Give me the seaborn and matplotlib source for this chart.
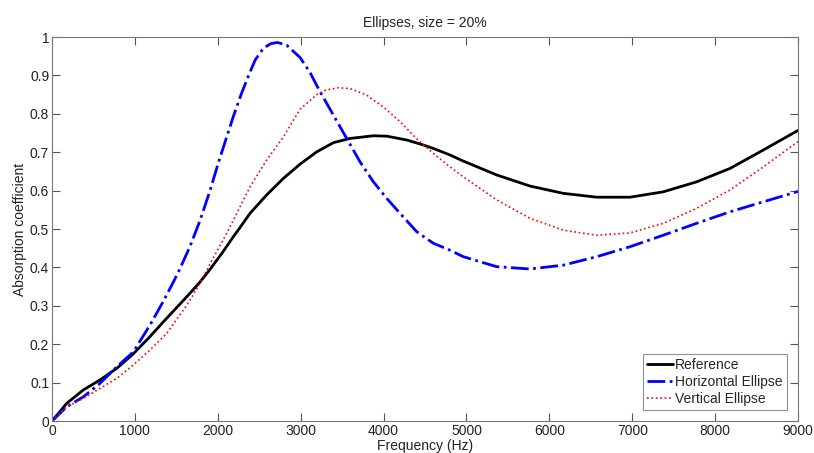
import numpy as np
import pandas as pd
import seaborn as sns
import matplotlib
matplotlib.use("Agg")
import matplotlib.pyplot as plt

# values
ref_freq = [0, 177, 378, 579, 780, 981, 1182, 1363, 1545, 1665, 1785, 1906, 2050, 2187,
            2268, 2389, 2590, 2791, 2992, 3193, 3394, 3595, 3877, 4038, 4279, 4480, 4600,
            4801, 4962, 5364, 5767, 6168, 6571, 6973, 7375, 7777, 8180, 8582, 9000]
ref_abs = [0, 0.046, 0.081, 0.107, 0.137, 0.175, 0.220, 0.263, 0.305, 0.333, 0.362, 0.395,
           0.437, 0.480, 0.504, 0.541, 0.589, 0.632, 0.669, 0.701, 0.725, 0.736, 0.743,
           0.742, 0.732, 0.719, 0.710, 0.693, 0.677, 0.641, 0.612, 0.593, 0.583, 0.583,
           0.597, 0.623, 0.658, 0.706, 0.757]

hor_freq = [0, 177, 378, 579, 780, 981, 1182, 1343, 1464, 1544, 1665, 1785, 1906, 2006,
            2100, 2187, 2280, 2368, 2450, 2550, 2640, 2720, 2831, 2911, 2992, 3112, 3233,
            3394, 3555, 3716, 3877, 4038, 4198, 4400, 4600, 4801, 4962, 5364, 5767, 6168,
            6571, 6973, 7375, 7777, 8180, 8582, 9000]
hor_abs = [0, 0.037, 0.063, 0.098, 0.141, 0.180, 0.250, 0.312, 0.362, 0.397, 0.455, 0.522,
           0.600, 0.672, 0.735, 0.793, 0.850, 0.898, 0.940, 0.971, 0.983, 0.986, 0.979,
           0.963, 0.947, 0.908, 0.858, 0.797, 0.736, 0.675, 0.623, 0.580, 0.541, 0.493,
           0.463, 0.445, 0.428, 0.402, 0.396, 0.406, 0.428, 0.454, 0.484, 0.515, 0.545,
           0.571, 0.598]

ver_freq = [0, 177, 378, 579, 780, 981, 1182, 1383, 1584, 1665, 1785, 1906, 2127, 2389,
            2590, 2791, 2992, 3193, 3300, 3454, 3595, 3796, 3997, 4198, 4400, 4600, 4801,
            4962, 5364, 5767, 6168, 6571, 6973, 7375, 7777, 8180, 8582, 9000]
ver_abs = [0, 0.037, 0.059, 0.085, 0.111, 0.146, 0.185, 0.228, 0.289, 0.315, 0.359, 0.409,
           0.497, 0.610, 0.680, 0.740, 0.812, 0.850, 0.862, 0.868, 0.866, 0.849, 0.818,
           0.780, 0.735, 0.697, 0.662, 0.636, 0.576, 0.528, 0.497, 0.484, 0.490, 0.515,
           0.554, 0.602, 0.662, 0.728]

series = [
    ("Reference", ref_freq, ref_abs, "black", "-", 2.0),
    ("Horizontal Ellipse", hor_freq, hor_abs, "#0000ff", "-.", 2.0),
    ("Vertical Ellipse", ver_freq, ver_abs, "#ff0000", ":", 1.2),
]

sns.set_style("white")
plt.rcParams["font.family"] = ["Liberation Sans", "DejaVu Sans"]
plt.rcParams["font.size"] = 10

fig = plt.figure(figsize=(8.14, 4.53), dpi=100)
ax = fig.add_axes([0.0639, 0.0706, 0.9165, 0.8475])

for name, f, a, col, ls, lw in series:
    df = pd.DataFrame({"Frequency": f, "Absorption": a})
    sns.lineplot(data=df, x="Frequency", y="Absorption", ax=ax, color=col,
                 linestyle=ls, linewidth=lw, label=name, sort=False)

ax.set_xlim(0, 9000)
ax.set_ylim(0, 1)
ax.set_xticks(np.arange(0, 9001, 1000))
ax.set_yticks(np.arange(0, 1.01, 0.1))
ax.set_yticklabels(["0", "0.1", "0.2", "0.3", "0.4", "0.5", "0.6", "0.7", "0.8", "0.9", "1"])
ax.tick_params(direction="in", length=5.5, width=0.8, color="#555555", labelsize=10,
               top=True, right=True, bottom=True, left=True, labelcolor="#222222")
ax.tick_params(axis="x", pad=2.5)
ax.tick_params(axis="y", pad=2)
for sp in ax.spines.values():
    sp.set_color("#777777")
    sp.set_linewidth(0.8)

ax.set_title("Ellipses, size = 20%", fontsize=10, pad=7, color="#222222")
ax.set_xlabel("Frequency (Hz)", fontsize=10, labelpad=0.5, color="#222222")
ax.set_ylabel("Absorption coefficient", fontsize=10, labelpad=2, color="#222222")

leg = ax.legend(loc="lower right", fontsize=10, frameon=True, fancybox=False,
                handlelength=1.9, handletextpad=0.15, borderpad=0.3, labelspacing=0.2,
                borderaxespad=0.8)
leg.get_frame().set_edgecolor("#777777")
leg.get_frame().set_linewidth(0.8)

fig.savefig("out.png", dpi=100)
